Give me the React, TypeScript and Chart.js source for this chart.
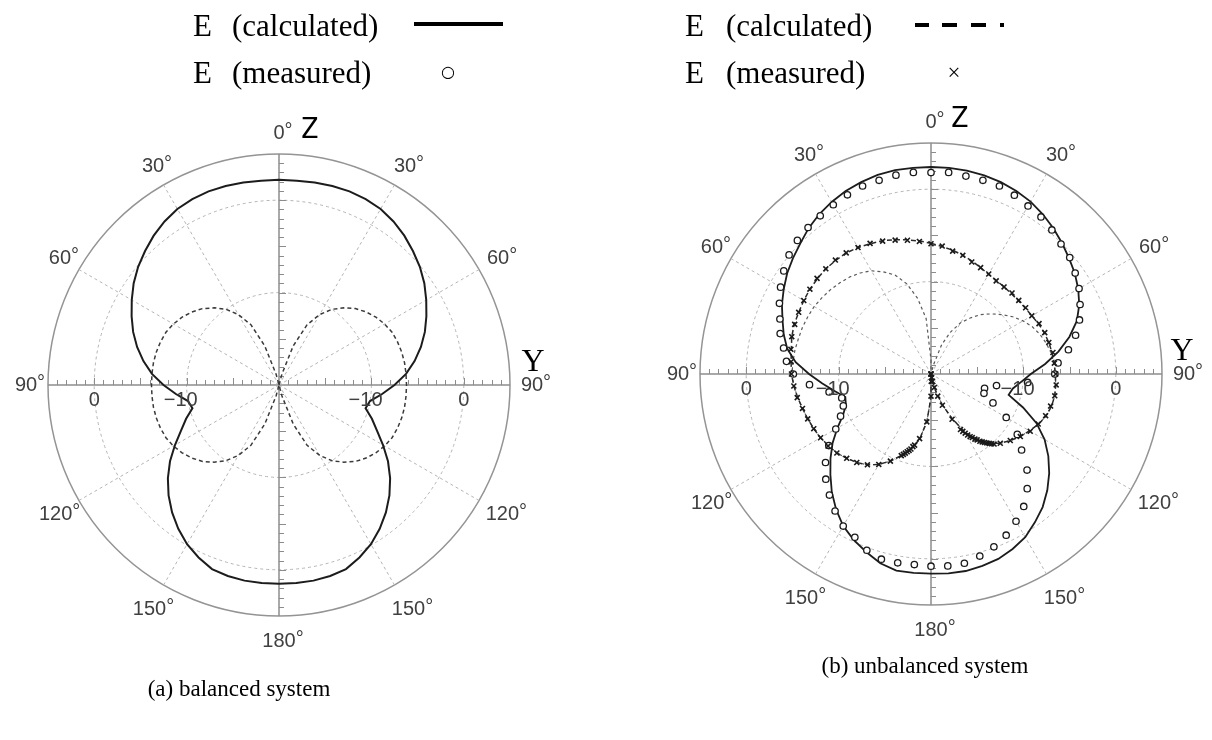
import React, { useEffect, useRef } from "react";
import { Chart, registerables } from "chart.js";

Chart.register(...registerables);

// ---------- categories: one radar spoke per degree (0° = up, clockwise) ----------
const degreeLabels: number[] = Array.from({ length: 360 }, (_, i) => i);
const spokeAngles = [0, 30, 60, 90, 120, 150, 180, 210, 240, 270, 300, 330];
const radialTickValues = [0, -10];

// angles (deg) of the calculated curves
const calcAngles = [
  0, 5, 10, 15, 20, 25, 30, 35, 40, 45, 50, 55, 60, 65, 70, 75, 80, 85,
  90, 95, 100, 105, 110, 115, 120, 125, 130, 135, 140, 145, 150, 155, 160, 165, 170, 175,
  180, 185, 190, 195, 200, 205, 210, 215, 220, 225, 230, 235, 240, 245, 250, 255, 260, 265,
  270, 275, 280, 285, 290, 295, 300, 305, 310, 315, 320, 325, 330, 335, 340, 345, 350, 355,
];

// ---------- (a) balanced system, dB ----------
const balancedSolid = [
  2.2, 2.2, 2.25, 2.3, 2.3, 2.2, 2.0, 1.6, 1.1, 0.5, -0.1, -0.8, -1.6, -2.4, -3.2, -4.1, -5.1, -6.2,
  -7.5, -8.8, -10.0, -10.3, -9.3, -8.3, -7.0, -5.6, -4.3, -3.1, -2.0, -1.0, -0.1, 0.6, 1.2, 1.4, 1.5, 1.5,
  1.5, 1.5, 1.5, 1.4, 1.2, 0.6, -0.1, -1.0, -2.0, -3.1, -4.3, -5.6, -7.0, -8.3, -9.3, -10.3, -10.0, -8.8,
  -7.5, -6.2, -5.1, -4.1, -3.2, -2.4, -1.6, -0.8, -0.1, 0.5, 1.1, 1.6, 2.0, 2.2, 2.3, 2.3, 2.25, 2.2,
];
const balancedDashed = [
  -20, -20, -20, -18.8, -15.5, -12.8, -11.2, -10.0, -9.1, -8.3, -7.7, -7.2, -6.8, -6.5, -6.35, -6.25, -6.2, -6.2,
  -6.2, -6.2, -6.2, -6.25, -6.35, -6.5, -6.8, -7.2, -7.7, -8.3, -9.1, -10.0, -11.2, -12.8, -15.5, -18.8, -20, -20,
  -20, -20, -20, -18.8, -15.5, -12.8, -11.2, -10.0, -9.1, -8.3, -7.7, -7.2, -6.8, -6.5, -6.35, -6.25, -6.2, -6.2,
  -6.2, -6.2, -6.2, -6.25, -6.35, -6.5, -6.8, -7.2, -7.7, -8.3, -9.1, -10.0, -11.2, -12.8, -15.5, -18.8, -20, -20,
];

// ---------- (b) unbalanced system, dB ----------
const unbalancedSolid = [
  2.4, 2.4, 2.35, 2.25, 2.1, 1.85, 1.55, 1.1, 0.6, 0.05, -0.5, -1.0, -1.6, -2.3, -3.2, -4.5, -6.0, -7.6,
  -9.2, -10.2, -11.0, -11.3, -9.4, -7.4, -5.8, -4.5, -3.3, -2.2, -1.2, -0.4, 0.4, 0.9, 1.3, 1.5, 1.65, 1.65,
  1.6, 1.6, 1.6, 1.2, 0.5, -0.2, -1.0, -2.1, -3.3, -4.6, -5.8, -7.0, -8.3, -9.5, -10.2, -10.4, -9.4, -8.2,
  -6.8, -5.3, -4.2, -3.5, -2.9, -2.2, -1.6, -1.0, -0.5, 0.0, 0.6, 1.1, 1.5, 1.85, 2.1, 2.3, 2.4, 2.4,
];
const unbalancedDashed = [
  -5.85, -6.15, -6.4, -6.7, -7.0, -7.3, -7.55, -7.65, -7.7, -7.7, -7.65, -7.55, -7.4, -7.15, -6.95, -6.8, -6.7, -6.6,
  -6.55, -6.45, -6.4, -6.5, -6.75, -7.15, -7.7, -8.2, -8.8, -9.4, -10.2, -11.3, -12.8, -14.8, -16.5, -18.2, -19.5, -20,
  -17.5, -14.8, -12.8, -11.6, -10.6, -9.6, -8.7, -8.0, -7.5, -7.1, -6.7, -6.45, -6.2, -6.0, -5.8, -5.6, -5.35, -5.1,
  -4.9, -4.8, -4.65, -4.4, -4.25, -4.2, -4.1, -4.0, -3.95, -3.9, -3.95, -4.0, -4.2, -4.45, -4.65, -4.95, -5.25, -5.55,
];
const unbalancedInner = [
  -18.5, -20, -20, -19, -16.6, -15.0, -13.6, -12.6, -11.6, -10.8, -10.0, -9.2, -8.5, -7.9, -7.45, -7.1, -6.8, -6.65,
  -6.55, -6.45, -6.4, -6.5, -6.75, -7.15, -7.7, -8.2, -8.8, -9.4, -10.2, -11.3, -12.8, -14.8, -16.5, -18.2, -19.5, -20,
  -17.5, -14.8, -12.8, -11.6, -10.6, -9.6, -8.7, -8.0, -7.5, -7.1, -6.7, -6.45, -6.2, -6.0, -5.8, -5.6, -5.35, -5.1,
  -4.95, -5.0, -5.05, -5.15, -5.2, -5.3, -5.4, -5.6, -5.8, -6.05, -6.3, -6.65, -7.1, -7.8, -8.6, -9.9, -11.7, -14.0,
];

// measured (circles) — same angles as calcAngles
const measuredCircle = [
  1.8, 1.9, 1.75, 1.7, 1.65, 1.35, 1.0, 0.75, 0.35, -0.1, -0.4, -0.95, -1.5, -2.2, -2.9, -3.8, -4.9, -6.2,
  -6.6, -9.5, -12.8, -14.0, -13.9, -12.6, -10.6, -8.6, -7.2, -5.3, -3.8, -2.5, -1.6, -0.75, -0.1, 0.4, 0.8, 0.85,
  0.8, 0.7, 0.75, 0.75, 0.3, -0.5, -1.0, -1.9, -2.9, -3.9, -5.1, -6.5, -8.1, -9.2, -9.9, -10.0, -8.8, -6.8,
  -5.1, -4.3, -3.8, -3.1, -2.6, -1.9, -1.2, -0.55, 0.05, 0.45, 0.7, 0.9, 1.15, 1.4, 1.65, 1.7, 1.85, 1.9,
];

// measured (crosses)
const crossAngles = [
  0, 5, 10, 15, 20, 25, 30, 35, 40, 45, 50, 55, 60, 65, 70, 75, 80, 85, 90, 95, 100, 105, 110, 115, 120, 125, 130, 135,
  138, 139, 140, 141, 142, 143, 144, 145, 146, 147, 148, 149, 150, 151, 152,
  155, 160, 163, 166, 168, 170, 172, 174, 176, 178, 180,
  185, 190, 193, 194, 195, 196, 197, 198, 199, 200,
  205, 210, 215, 220, 225, 230, 235, 240, 245, 250, 255, 260, 265, 270, 275, 280, 285, 290, 295, 300,
  305, 310, 315, 320, 325, 330, 335, 340, 345, 350, 355,
];
const crossValues = [
  -5.9, -6.1, -6.5, -6.7, -7.1, -7.3, -7.5, -7.7, -7.7, -7.6, -7.6, -7.5, -7.4, -7.1, -6.9, -6.8, -6.6, -6.6, -6.5, -6.4, -6.4, -6.6, -6.8, -7.2, -7.6, -8.2, -8.8, -9.4,
  -9.8, -10.0, -10.2, -10.4, -10.6, -10.8, -11.0, -11.3, -11.5, -11.8, -12.0, -12.3, -12.6, -12.9, -13.2,
  -14.6, -16.4, -17.5, -18.5, -19.2, -19.6, -20, -20, -20, -19.2, -17.6,
  -14.8, -12.9, -12.1, -11.9, -11.6, -11.4, -11.2, -11.0, -10.8, -10.6,
  -9.6, -8.7, -8.0, -7.5, -7.1, -6.7, -6.4, -6.2, -6.0, -5.8, -5.6, -5.3, -5.1, -4.9, -4.8, -4.6, -4.4, -4.3, -4.2, -4.1,
  -4.0, -3.9, -3.9, -3.9, -4.0, -4.2, -4.4, -4.7, -5.0, -5.3, -5.6,
];

// ---------- helpers ----------
function toSeries(angles: number[], values: number[]) {
  const out: (number | null)[] = degreeLabels.map(() => null);
  angles.forEach((a, i) => {
    out[a] = values[i];
  });
  return out;
}

const GRID = "#b4b4b4";
const AXIS = "#8c8c8c";
const LABEL_FONT = "20px 'Liberation Sans', Arial, sans-serif";
const labelGap: Record<number, number> = {
  0: 21, 30: 21, 60: 22, 90: 22, 120: 27, 150: 28, 180: 25, 210: 28, 240: 27, 270: 22, 300: 22, 330: 21,
};

const polarDecor = {
  id: "polarDecor",
  beforeDatasetsDraw(chart: any) {
    const s = chart.scales.r;
    const ctx = chart.ctx;
    const cx = s.xCenter;
    const cy = s.yCenter;
    ctx.save();
    ctx.strokeStyle = AXIS;
    ctx.lineWidth = 1;
    ctx.beginPath();
    for (let v = s.min + 1; v < s.max; v++) {
      const d = s.getDistanceFromCenterForValue(v);
      const len = v % 5 === 0 ? 7 : 5;
      const xr = Math.round(cx + d) + 0.5;
      const xl = Math.round(cx - d) + 0.5;
      const yu = Math.round(cy - d) + 0.5;
      const yd = Math.round(cy + d) + 0.5;
      ctx.moveTo(xr, cy);
      ctx.lineTo(xr, cy - len);
      ctx.moveTo(xl, cy);
      ctx.lineTo(xl, cy - len);
      ctx.moveTo(cx, yu);
      ctx.lineTo(cx + len, yu);
      ctx.moveTo(cx, yd);
      ctx.lineTo(cx + len, yd);
    }
    ctx.stroke();
    ctx.restore();
  },
  afterDraw(chart: any) {
    const s = chart.scales.r;
    const ctx = chart.ctx;
    ctx.save();
    ctx.fillStyle = "#404040";
    ctx.font = LABEL_FONT;
    ctx.textBaseline = "middle";
    for (const deg of spokeAngles) {
      const p = s.getPointPosition(deg, s.drawingArea + labelGap[deg]);
      const num = String(deg <= 180 ? deg : 360 - deg);
      const w = ctx.measureText(num).width;
      ctx.textAlign = "left";
      ctx.fillText(num, p.x - w / 2, p.y);
      ctx.fillText("°", p.x + w / 2, p.y - 2);
    }
    for (const v of radialTickValues) {
      const d = s.getDistanceFromCenterForValue(v);
      const digits = String(Math.abs(v));
      const text = v < 0 ? "\u2212" + digits : digits;
      const wd = ctx.measureText(digits).width;
      ctx.textAlign = "right";
      ctx.fillText(text, s.xCenter + d + wd / 2, s.yCenter + 15);
      ctx.fillText(text, s.xCenter - d + wd / 2, s.yCenter + 15);
    }
    ctx.restore();
  },
};

type PlotProps = {
  left: number;
  width: number;
  height: number;
  padding: { left: number; top: number; right: number; bottom: number };
  datasets: any[];
};

function PolarPlot({ left, width, height, padding, datasets }: PlotProps) {
  const ref = useRef<HTMLCanvasElement>(null);
  useEffect(() => {
    const chart = new Chart(ref.current as HTMLCanvasElement, {
      type: "radar",
      data: { labels: degreeLabels, datasets },
      options: {
        responsive: false,
        animation: false,
        devicePixelRatio: 1,
        events: [],
        layout: { padding },
        plugins: { legend: { display: false }, tooltip: { enabled: false } },
        elements: { line: { tension: 0, fill: false }, point: { radius: 0, hitRadius: 0 } },
        scales: {
          r: {
            min: -20,
            max: 5,
            startAngle: 0,
            ticks: { display: false, stepSize: 5 },
            pointLabels: { display: false },
            grid: {
              circular: true,
              color: (c: any) => {
                const v = c.tick ? c.tick.value : null;
                if (v === 5) return "#949494";
                if (v === 0 || v === -10) return GRID;
                return "transparent";
              },
              lineWidth: (c: any) => (c.tick && c.tick.value === 5 ? 1.5 : 1),
            },
            border: { dash: (c: any) => (c.tick && c.tick.value === 5 ? [] : [3, 3]) },
            angleLines: {
              color: (c: any) => (c.index % 90 === 0 ? AXIS : c.index % 30 === 0 ? GRID : "transparent"),
              lineWidth: (c: any) => (c.index % 30 === 0 ? (c.index % 90 === 0 ? 1.5 : 1) : 0),
              borderDash: (c: any) => (c.index % 90 === 0 ? [] : [3, 3]),
            },
          },
        },
      } as any,
      plugins: [polarDecor],
    });
    return () => chart.destroy();
  }, []);
  return (
    <canvas
      ref={ref}
      width={width}
      height={height}
      style={{ position: "absolute", left, top: 0, width, height, display: "block" }}
    />
  );
}

const lineDs = (data: (number | null)[], color: string, width: number, dash: number[]) => ({
  data,
  borderColor: color,
  borderWidth: width,
  borderDash: dash,
  pointRadius: 0,
  spanGaps: true,
  fill: false,
  tension: 0,
});

const markerDs = (data: (number | null)[], style: string, radius: number, bw: number) => ({
  data,
  showLine: false,
  pointStyle: style,
  pointRadius: radius,
  pointBorderColor: "#1a1a1a",
  pointBackgroundColor: "#fff",
  pointBorderWidth: bw,
  spanGaps: true,
  fill: false,
});

const leftDatasets = [
  lineDs(toSeries(calcAngles, balancedSolid), "#1c1c1c", 2, []),
  lineDs(toSeries(calcAngles, balancedDashed), "#3a3a3a", 1.5, [4, 3]),
];

const rightDatasets = [
  markerDs(toSeries(crossAngles, crossValues), "crossRot", 3.5, 1.6),
  markerDs(toSeries(calcAngles, measuredCircle), "circle", 3.2, 1.3),
  lineDs(toSeries(calcAngles, unbalancedSolid), "#1c1c1c", 1.8, []),
  lineDs(toSeries(calcAngles, unbalancedDashed), "#2a2a2a", 1.5, [5, 3]),
  lineDs(toSeries(calcAngles, unbalancedInner), "#5a5a5a", 1.2, [3, 3]),
];

const SERIF = "'Liberation Serif', 'Times New Roman', serif";

function Txt({ x, y, size, text, center, font }: { x: number; y: number; size: number; text: string; center?: boolean; font?: string }) {
  return (
    <div
      style={{
        position: "absolute",
        left: x,
        top: center ? y : y - size / 2,
        transform: center ? "translate(-50%, -50%)" : undefined,
        font: `${size}px ${font || SERIF}`,
        lineHeight: `${size}px`,
        whiteSpace: "pre",
        color: "#000",
      }}
    >
      {text}
    </div>
  );
}

const Bar = ({ x, y, w, h }: { x: number; y: number; w: number; h: number }) => (
  <div style={{ position: "absolute", left: x, top: y, width: w, height: h, background: "#000" }} />
);

const SANS_Z = "'DejaVu Sans Condensed', 'DejaVu Sans', sans-serif";

export default function App() {
  return (
    <div style={{ position: "absolute", left: 0, top: 0, width: 1212, height: 740, background: "#fff", overflow: "hidden" }}>
      <PolarPlot left={0} width={606} height={740} padding={{ left: 48, top: 154, right: 96, bottom: 124 }} datasets={leftDatasets} />
      <PolarPlot left={606} width={606} height={740} padding={{ left: 94, top: 143, right: 50, bottom: 135 }} datasets={rightDatasets} />

      {/* legend left */}
      <Txt x={193} y={25} size={31} text="E" />
      <Txt x={232} y={25} size={31} text="(calculated)" />
      <Bar x={414} y={22} w={89} h={4} />
      <Txt x={193} y={72} size={31} text="E" />
      <Txt x={232} y={72} size={31} text="(measured)" />
      <Txt x={448} y={72} size={16} text="○" center font="'DejaVu Sans', sans-serif" />

      {/* legend right */}
      <Txt x={685} y={25} size={31} text="E" />
      <Txt x={726} y={25} size={31} text="(calculated)" />
      <Bar x={915} y={23} w={14} h={4} />
      <Bar x={942} y={23} w={15} h={4} />
      <Bar x={971} y={23} w={15} h={4} />
      <Bar x={1000} y={23} w={4} h={4} />
      <Txt x={685} y={72} size={31} text="E" />
      <Txt x={726} y={72} size={31} text="(measured)" />
      <Txt x={954} y={72} size={23} text="×" center />

      {/* axis names */}
      <Txt x={310} y={129} size={28} text="Z" center font={SANS_Z} />
      <Txt x={960} y={118} size={28} text="Z" center font={SANS_Z} />
      <Txt x={533} y={360} size={32} text="Y" center />
      <Txt x={1182} y={349} size={32} text="Y" center />

      {/* captions */}
      <Txt x={239} y={688} size={23} text="(a) balanced system" center />
      <Txt x={925} y={665} size={23} text="(b) unbalanced system" center />
    </div>
  );
}
